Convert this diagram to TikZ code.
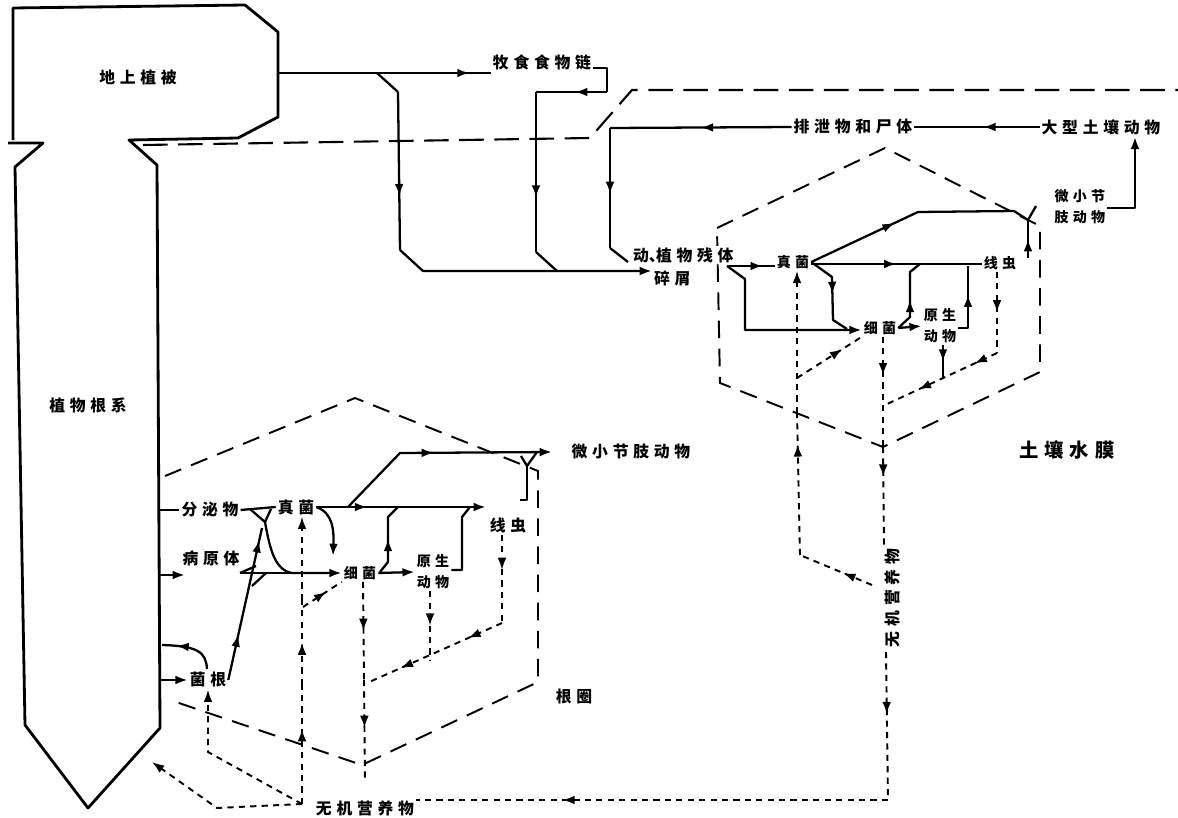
\documentclass[tikz,border=0pt]{standalone}
\usepackage{fontspec}
\newfontfamily\cjk{Noto Sans CJK SC}[LetterSpace=30]
\usetikzlibrary{arrows.meta,decorations.markings}

\begin{document}
\begin{tikzpicture}[x=0.02cm, y=-0.02cm,
    flow/.style={line width=1.3pt, line join=round},
    nut/.style={line width=1.1pt, dash pattern=on 3.5pt off 3pt},
    wall/.style={line width=1.1pt, dash pattern=on 10pt off 6pt},
    soil/.style={line width=1.2pt, dash pattern=on 14pt off 6pt},
    ahead/.style={-{Latex[length=7pt,width=5pt]}},
    midarr/.style={postaction={decorate,decoration={markings,mark=at position #1 with {\arrow{Latex[length=7pt,width=5pt]}}}}},
    midarr/.default=0.5,
    lbl/.style={font={\cjk\bfseries\fontsize{9}{12}\selectfont}, inner sep=1pt, fill=white},
    sml/.style={font={\cjk\bfseries\fontsize{8}{12}\selectfont}, inner sep=1pt, align=center, fill=white},
    big/.style={font={\cjk\bfseries\fontsize{11}{13}\selectfont}, inner sep=1pt}]

        \useasboundingbox (0,0) rectangle (1178,818);

        % --- PLANT (shoot and root) ---
        \draw[line width=1.6pt, line join=round] (13,140) -- (13,8) -- (245,5) -- (278,32) -- (278,117) -- (238,138) -- (129,140)
            -- (157,165) -- (160,728) -- (88,808) -- (25,725) -- (15,167) -- (43,143) -- (8,143);
        \coordinate (stem) at (278,73);
        \coordinate (fork) at (377,73);

        % --- SOIL SURFACE ---
        \draw[soil] (143,145) -- (590,138) -- (632,90) -- (1178,90);

        % --- BOXES (dashed) ---
        \draw[wall] (717,228) -- (885,148) -- (1040,226) -- (1040,372) -- (883,447) -- (720,383) -- cycle;
        \draw[wall] (165,476) -- (355,398) -- (538,471) -- (538,682) -- (362,765) -- (170,700);

        % --- LABELS ---
        \node[lbl] (shoot) at (138,77) {地上植被};
        \node[lbl] (root) at (88,405) {植物根系};
        \node[lbl] (graze) at (542,62) {牧食食物链};
        \node[lbl] (excr) at (853,127) {排泄物和尸体};
        \node[lbl] (macro) at (1101,127) {大型土壤动物};
        \node[lbl, anchor=west] (dbr) at (631,255) {动\makebox[0.45em][l]{、}植物残体};
        \node[lbl, anchor=west] (dbr2) at (652,278) {碎屑};

        \node[sml] (rfun) at (793,262) {真菌};
        \node[sml] (rbac) at (880,328) {细菌};
        \node[sml] (rpro) at (940,326) {原生\\动物};
        \node[sml] (rnem) at (1000,263) {线虫};
        \node[sml] (rarth) at (1080,207) {微小节\\肢动物};
        \node[big] (water) at (1067,450) {土壤水膜};
        \node[lbl, rotate=90] (rinorg) at (892,598) {无机营养物};

        \node[lbl] (secr) at (210,510) {分泌物};
        \node[lbl] (path) at (211,558) {病原体};
        \node[lbl] (myc) at (208,680) {菌根};
        \node[lbl] (lfun) at (296,507) {真菌};
        \node[sml] (lbac) at (360,573) {细菌};
        \node[sml] (lpro) at (433,572) {原生\\动物};
        \node[lbl] (lnem) at (508,525) {线虫};
        \node[lbl] (larth) at (631,452) {微小节肢动物};
        \node[lbl] (rhizo) at (574,697) {根圈};
        \node[lbl] (linorg) at (365,808) {无机营养物};

        % --- GRAZING AND DETRITUS CHAINS ---
        \draw[flow, midarr=0.9] (stem) -- (graze.south west |- 0,73);
        \draw[flow] (fork) -- (398,92);
        \draw[flow, midarr=0.66] (398,92) -- (400,250);
        \draw[flow, ahead] (400,250) -- (423,271) -- (dbr2.west |- 0,271);
        \draw[flow] (graze.east |- 0,68) -- (607,68) -- (607,92);
        \draw[flow, midarr=0.45] (607,92) -- (536,92);
        \draw[flow, midarr=0.66] (536,92) -- (536,252);
        \draw[flow] (536,252) -- (557,271);
        \draw[flow, midarr=0.5] (excr.west) -- (610,128);
        \draw[flow, midarr=0.55] (610,128) -- (610,248);
        \draw[flow] (610,248) -- (628,262);
        \draw[flow, midarr=0.45] (macro.west) -- (excr.east);
        \draw[flow, ahead] (rarth.east |- 0,208) -- (1135,208) -- (macro.south -| 1135,0);

        % --- SOIL WATER FILM ---
        \coordinate (rj) at (727,266);
        \draw[flow, midarr=0.75] (rj) -- (rfun.west |- 0,266);
        \draw[flow, ahead] (rj) -- (745,279) -- (745,330) -- (rbac.west |- 0,330);
        \draw[flow, midarr=0.5] (rfun.east |- 0,264) -- (rnem.west |- 0,264);
        \draw[flow, midarr=0.5] (rfun.east) -- (832,277) -- (833,320) -- (847,329);
        \draw[flow, midarr=0.4] (rfun.east) -- (918,212) -- (1014,211) -- (1028,220);
        \draw[flow] (1036,206) -- (1028,220);
        \draw[flow, midarr=0.5] (1028,258) -- (1028,220);
        \draw[flow, ahead] (rbac.east) -- (rpro.west);
        \draw[flow, midarr=0.45] (rbac.east) -- (910,317) -- (910,272) -- (920,264);
        \draw[flow, midarr=0.6] (rpro.east |- 0,328) -- (968,328) -- (968,266);
        \draw[flow, midarr=0.5] (rpro.south -| 943,0) -- (943,378);

        \draw[nut, midarr=0.7] (797,378) -- (rbac.south west);
        \draw[nut, midarr=0.35] (rbac.south -| 883,0) -- (883,447);
        \draw[nut, midarr=0.3] (883,447) -- (884,546);
        \draw[nut, midarr=0.42] (886,652) -- (888,800);
        \draw[nut, midarr=0.69] (888,800) -- (linorg.east |- 0,800);
        \draw[nut, midarr=0.4] (872,585) -- (800,555);
        \draw[nut, midarr=0.78] (800,555) -- (797,413);
        \draw[nut, ahead] (797,413) -- (rfun.south -| 797,0);
        \draw[nut, midarr=0.5] (rnem.south -| 997,0) -- (997,353);
        \draw[nut, midarr=0.2, midarr=0.7] (997,353) -- (885,405);

        % --- RHIZOSPHERE ---
        \draw[flow] (160,510) -- (secr.west);
        \draw[flow, ahead] (160,575) -- (185,575);
        \draw[flow] (secr.east) -- (lfun.west);
        \draw[flow] (250,509) -- (265,522) -- (271,509);
        \draw[flow, ahead] (265,522) .. controls (270,550) and (275,570) .. (292,573) -- (lbac.west |- 0,573);
        \draw[flow] (240,573) -- (292,573);
        \draw[flow] (240,573) -- (256,566);
        \draw[flow] (252,586) -- (266,573);
        \draw[flow, midarr=0.3, midarr=0.92] (myc.east) -- (262,528);
        \draw[flow, midarr=0.75] (207,669) .. controls (206,652) and (198,646) .. (162,645);
        \draw[flow, ahead] (160,680) -- (myc.west);
        \draw[flow, ahead, midarr=0.3] (lfun.east) -- (486,507);
        \draw[flow, ahead] (lfun.east) .. controls (333,513) and (334,530) .. (333,556);
        \draw[flow, midarr=0.48, ahead] (348,507) -- (400,453) -- (552,452);
        \draw[flow, ahead] (lbac.east) -- (lpro.west);
        \draw[flow, midarr=0.5] (380,572) -- (388,562) -- (388,517) -- (398,507);
        \draw[flow] (lpro.east |- 0,570) -- (462,570) -- (462,517) -- (470,507);
        \draw[flow] (520,500) -- (527,500) -- (527,466);
        \draw[flow] (521,456) -- (527,466) -- (537,452);

        \coordinate (ljn) at (302,804);
        \draw[nut, midarr=0.63] (ljn) -- (302,685);
        \draw[nut, midarr=0.5] (302,685) -- (302,600);
        \draw[nut, ahead] (302,600) -- (lfun.south -| 302,0);
        \draw[nut, midarr=0.6] (303,607) -- (lbac.south west);
        \draw[nut, ahead] (ljn) -- (217,808) -- (152,762);
        \draw[nut, ahead] (ljn) -- (208,752) -- (myc.south -| 208,0);
        \draw[nut, midarr=0.5] (lbac.south -| 363,0) -- (364,680);
        \draw[nut, midarr=0.47] (364,680) -- (365,782);
        \draw[nut, midarr=0.5] (lpro.south -| 430,0) -- (430,660);
        \draw[nut, midarr=0.4] (lnem.south -| 502,0) -- (502,623);
        \draw[nut, midarr=0.25, midarr=0.75] (502,623) -- (367,683);

    \end{tikzpicture}
\end{document}
